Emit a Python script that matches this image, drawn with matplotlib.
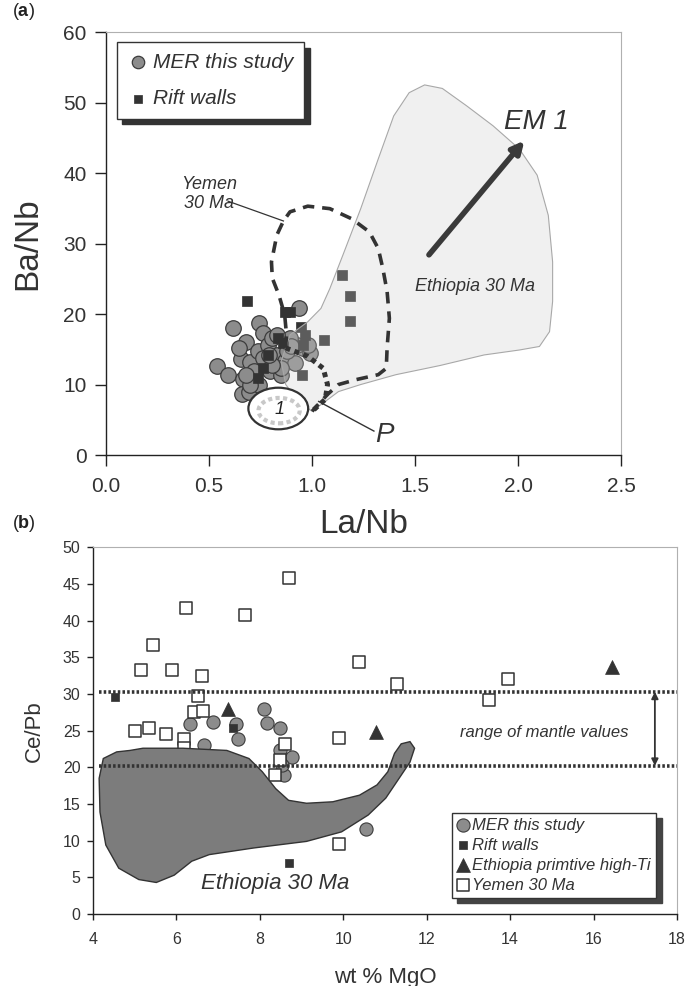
import numpy as np
import matplotlib
matplotlib.use('Agg')
import matplotlib.pyplot as plt
from matplotlib.patches import Polygon, Ellipse

plt.rcParams['font.family'] = ['Liberation Sans Narrow', 'Liberation Sans', 'DejaVu Sans']
plt.rcParams['mathtext.fontset'] = 'custom'
plt.rcParams['mathtext.bf'] = 'Liberation Sans:bold'
plt.rcParams['mathtext.rm'] = 'Liberation Sans'

# ---------------- panel (a): Ba/Nb vs La/Nb ----------------
mer_a_lanb = [0.54, 0.59, 0.615, 0.653, 0.664, 0.662, 0.679, 0.70, 0.696, 0.743, 0.739, 0.764,
              0.786, 0.717, 0.764, 0.807, 0.829, 0.797, 0.85, 0.87, 0.919, 0.936, 0.957, 0.99,
              0.98, 0.925, 0.893, 0.88, 0.85, 0.807, 0.743, 0.70, 0.679, 0.647, 0.79, 0.83, 0.90]
mer_a_banb = [12.7, 11.3, 18.0, 13.6, 10.8, 8.7, 16.1, 13.2, 8.95, 18.7, 14.8, 17.3,
              15.6, 11.9, 13.75, 16.6, 14.2, 11.9, 11.4, 13.3, 13.05, 20.8, 15.2, 14.5,
              15.6, 15.6, 16.6, 14.7, 12.3, 12.8, 10.0, 10.0, 11.4, 15.2, 14.2, 17.05, 15.4]

rift_a_lanb = [0.685, 0.871, 0.893, 0.946, 0.968, 0.957, 1.06, 1.146, 1.182, 1.182, 0.953,
               0.833, 0.86, 0.786, 0.764, 0.74]
rift_a_banb = [21.8, 20.3, 20.3, 18.1, 17.05, 15.6, 16.25, 25.6, 22.6, 19.0, 11.4,
               16.6, 15.9, 14.2, 12.3, 10.9]

ethiopia_a_lanb = [0.893, 0.979, 1.043, 1.086, 1.15, 1.236, 1.321, 1.396, 1.471, 1.546, 1.632,
                   1.749, 1.878, 2.006, 2.092, 2.146, 2.167, 2.167, 2.152, 2.103, 2.006, 1.835,
                   1.621, 1.407, 1.236, 1.128, 1.064, 1.0, 0.936, 0.872, 0.85]
ethiopia_a_banb = [17.05, 18.9, 20.8, 23.6, 28.4, 34.95, 42.0, 48.1, 51.4, 52.5, 52.0,
                   49.55, 46.7, 43.4, 39.7, 34.0, 27.4, 21.8, 17.5, 15.4, 14.9, 14.2,
                   12.7, 11.4, 10.0, 9.0, 7.6, 6.2, 7.6, 10.0, 13.3]

yemen_a_lanb = [0.871, 0.876, 0.867, 0.839, 0.807, 0.803, 0.829, 0.861, 0.893, 0.979, 1.086,
                1.193, 1.278, 1.321, 1.343, 1.364, 1.375, 1.364, 1.36, 1.321, 1.214, 1.128,
                1.075, 1.021, 1.0]
yemen_a_banb = [15.2, 17.05, 19.9, 22.7, 25.1, 27.4, 31.2, 33.2, 34.5, 35.3, 34.95,
                33.5, 31.65, 29.3, 26.5, 23.2, 19.4, 15.2, 12.3, 11.4, 10.7, 10.0,
                8.6, 6.9, 6.2]

p_a_lanb = [0.871, 0.979, 1.054, 1.075, 1.064, 1.0]
p_a_banb = [15.2, 14.0, 12.3, 10.0, 7.9, 6.2]

# ---------------- panel (b): Ce/Pb vs MgO ----------------
mer_b_mgo = [6.33, 6.66, 6.88, 7.43, 7.48, 8.09, 8.17, 8.48, 8.48, 8.77, 8.59, 8.54, 10.55]
mer_b_cepb = [25.95, 23.0, 26.2, 25.95, 23.9, 28.0, 26.1, 25.4, 22.3, 21.4, 18.9, 20.3, 11.6]

rift_b_mgo = [4.53, 7.35, 8.69]
rift_b_cepb = [29.6, 25.3, 6.9]

hiti_b_mgo = [7.25, 10.78, 16.44]
hiti_b_cepb = [28.0, 24.8, 33.7]

yemen_b_mgo = [8.695, 6.24, 7.64, 5.45, 5.16, 5.90, 6.61, 10.39, 11.29, 13.95, 13.49, 6.51,
               6.42, 6.64, 5.01, 5.35, 5.76, 6.19, 6.19, 9.91, 8.6, 8.49, 8.36, 9.91]
yemen_b_cepb = [45.8, 41.7, 40.8, 36.7, 33.2, 33.2, 32.4, 34.4, 31.4, 32.1, 29.2, 29.7,
                27.5, 27.7, 24.9, 25.3, 24.6, 23.8, 22.6, 24.0, 23.2, 21.0, 18.9, 9.6]

ethiopia_b_mgo = [4.25, 4.57, 4.89, 5.2, 6.16, 7.21, 7.74, 8.06, 8.38, 8.69, 9.12, 9.75, 10.39,
                  10.81, 11.07, 11.23, 11.39, 11.6, 11.71, 11.6, 11.34, 11.02, 10.6, 9.96, 9.12,
                  7.85, 6.79, 6.37, 5.95, 5.52, 5.1, 4.62, 4.31, 4.17, 4.15]
ethiopia_b_cepb = [21.2, 22.1, 22.3, 22.6, 22.6, 22.3, 21.2, 19.4, 17.1, 15.5, 15.1, 15.3, 16.2,
                   17.6, 19.4, 21.9, 23.2, 23.5, 22.6, 20.7, 18.5, 15.8, 13.5, 11.2, 9.9,
                   9.0, 8.1, 7.2, 5.3, 4.3, 4.7, 6.25, 9.4, 13.9, 18.5]

mantle_range = [20.2, 30.3]

CIRCLE_FC = '#8c8c8c'
TXT = '#333333'


def style_axes(ax):
    for side in ('top', 'right'):
        ax.spines[side].set_color('#b0b0b0')
        ax.spines[side].set_linewidth(0.8)
    for side in ('left', 'bottom'):
        ax.spines[side].set_color('#222222')
        ax.spines[side].set_linewidth(1.0)
    ax.tick_params(top=False, right=False, direction='out', colors='#222222')


def style_legend(leg):
    leg.get_frame().set_edgecolor(TXT)
    leg.get_frame().set_linewidth(1.0)
    for t in leg.get_texts():
        t.set_color(TXT)


fig = plt.figure(figsize=(6.88, 9.86), dpi=100)

# ---- (a)
ax1 = fig.add_axes([0.154, 0.5385, 0.749, 0.429])
style_axes(ax1)
eth_a = np.column_stack([ethiopia_a_lanb, ethiopia_a_banb])
# translucent field laid over the symbols, outline drawn separately
ax1.add_patch(Polygon(eth_a, closed=True, facecolor='#cbcbcb', edgecolor='none',
                      alpha=0.27, zorder=4.5))
ax1.add_patch(Polygon(eth_a, closed=True, facecolor='none', edgecolor='#a8a8a8',
                      linewidth=0.8, zorder=4.6))
ax1.plot(yemen_a_lanb, yemen_a_banb, color=TXT, lw=2.6, dashes=(3.2, 2.2),
         solid_capstyle='butt', zorder=5)
ax1.plot(p_a_lanb, p_a_banb, color=TXT, lw=3.6, dashes=(1.0, 0.9), zorder=5)
ax1.scatter(mer_a_lanb, mer_a_banb, s=125, marker='o', facecolor=CIRCLE_FC,
            edgecolor='#3c3c3c', linewidth=0.9, zorder=3, label='MER this study')
ax1.scatter(rift_a_lanb, rift_a_banb, s=44, marker='s', facecolor=TXT,
            edgecolor=TXT, linewidth=0.5, zorder=4, label='Rift walls')
ax1.add_patch(Ellipse((0.836, 6.6), 0.29, 5.9, facecolor='white', edgecolor=TXT,
                      linewidth=1.6, zorder=6))
ax1.add_patch(Ellipse((0.84, 6.3), 0.2, 3.6, facecolor='none', edgecolor='#c8c8c8',
                      linewidth=3.0, linestyle=(0, (1.0, 0.8)), zorder=6))
ax1.text(0.84, 6.4, '1', fontsize=13, style='italic', ha='center', va='center',
         color='#222222', zorder=7)

ax1.annotate('', xy=(2.03, 44.6), xytext=(1.567, 28.4),
             arrowprops=dict(arrowstyle='-|>,head_length=0.7,head_width=0.35',
                             color='#3a3a3a', lw=4.0, shrinkA=0, shrinkB=0), zorder=6)
ax1.text(2.09, 47.3, 'EM 1', fontsize=20, style='italic', ha='center', va='center',
         color=TXT, zorder=7)
ax1.text(1.79, 23.9, 'Ethiopia 30 Ma', fontsize=13, style='italic', ha='center',
         va='center', color=TXT, zorder=7)
ax1.text(0.50, 37.0, 'Yemen\n30 Ma', fontsize=13, style='italic', ha='center', va='center',
         color=TXT, linespacing=1.2, zorder=7)
ax1.plot([0.593, 0.861], [36.0, 33.2], color=TXT, lw=0.9, zorder=6)
ax1.text(1.35, 2.9, 'P', fontsize=20, style='italic', ha='center', va='center',
         color=TXT, zorder=7)
ax1.plot([1.30, 1.032], [3.4, 7.6], color=TXT, lw=1.0, zorder=6)

ax1.set_xlim(0, 2.5)
ax1.set_ylim(0, 60)
ax1.set_xticks(np.arange(0, 2.51, 0.5))
ax1.set_xticklabels([f'{v:.1f}' for v in np.arange(0, 2.51, 0.5)])
ax1.set_yticks(np.arange(0, 61, 10))
ax1.tick_params(axis='both', labelsize=15, length=8, width=1.0)
ax1.tick_params(axis='x', pad=8)
ax1.tick_params(axis='y', pad=6)
ax1.set_xlabel('La/Nb', fontsize=24, color=TXT, labelpad=9)
ax1.set_ylabel('Ba/Nb', fontsize=24, color=TXT, labelpad=14)
for lbl in ax1.get_xticklabels() + ax1.get_yticklabels():
    lbl.set_color(TXT)

leg1 = ax1.legend(loc='upper left', bbox_to_anchor=(0.021, 0.976), borderaxespad=0,
                  frameon=True, fancybox=False, handletextpad=0.25, labelspacing=0.85,
                  borderpad=0.5, handlelength=1.0, markerscale=0.8,
                  shadow={'color': TXT, 'alpha': 1.0, 'ox': 4, 'oy': -4},
                  prop={'style': 'italic', 'size': 15})
leg1.set_zorder(10)
style_legend(leg1)

# ---- (b)
ax2 = fig.add_axes([0.135, 0.073, 0.849, 0.372])
style_axes(ax2)
ax2.add_patch(Polygon(np.column_stack([ethiopia_b_mgo, ethiopia_b_cepb]), closed=True,
                      facecolor='#7c7c7c', edgecolor=TXT, linewidth=1.0, zorder=3))
for yv in mantle_range:
    ax2.plot([4.15, 18], [yv, yv], color=TXT, lw=2.6, dashes=(0.7, 0.6), zorder=4)
ax2.scatter(mer_b_mgo, mer_b_cepb, s=90, marker='o', facecolor=CIRCLE_FC,
            edgecolor='#3c3c3c', linewidth=0.8, zorder=2, label='MER this study')
ax2.scatter(rift_b_mgo, rift_b_cepb, s=34, marker='s', facecolor=TXT,
            edgecolor=TXT, linewidth=0.5, zorder=5, label='Rift walls')
ax2.scatter(hiti_b_mgo, hiti_b_cepb, s=100, marker='^', facecolor=TXT,
            edgecolor=TXT, linewidth=0.5, zorder=5, label='Ethiopia primtive high-Ti')
ax2.scatter(yemen_b_mgo, yemen_b_cepb, s=80, marker='s', facecolor='white',
            edgecolor=TXT, linewidth=1.1, zorder=2, label='Yemen 30 Ma')

ax2.annotate('', xy=(17.47, mantle_range[1]), xytext=(17.47, mantle_range[0]),
             arrowprops=dict(arrowstyle='<|-|>,head_length=0.4,head_width=0.2',
                             color=TXT, lw=1.3, shrinkA=0, shrinkB=0), zorder=5)
ax2.text(14.83, 24.7, 'range of mantle values', fontsize=12, style='italic',
         ha='center', va='center', color=TXT)
ax2.text(8.38, 4.1, 'Ethiopia 30 Ma', fontsize=16, style='italic', ha='center',
         va='center', color=TXT, zorder=6)

ax2.set_xlim(4, 18)
ax2.set_ylim(0, 50)
ax2.set_xticks(np.arange(4, 19, 2))
ax2.set_yticks(np.arange(0, 51, 5))
ax2.tick_params(axis='both', labelsize=11.5, length=4, width=1.0)
ax2.tick_params(axis='x', pad=9)
ax2.tick_params(axis='y', pad=5)
ax2.set_xlabel('wt % MgO', fontsize=16, color=TXT, labelpad=14)
ax2.set_ylabel('Ce/Pb', fontsize=16, color=TXT, labelpad=13)
for lbl in ax2.get_xticklabels() + ax2.get_yticklabels():
    lbl.set_color(TXT)

leg2 = ax2.legend(loc='lower right', bbox_to_anchor=(0.964, 0.045), borderaxespad=0,
                  frameon=True, fancybox=False, handletextpad=0.15, labelspacing=0.3,
                  borderpad=0.3, handlelength=0.8,
                  shadow={'color': '#444444', 'alpha': 1.0, 'ox': 4, 'oy': -4},
                  prop={'style': 'italic', 'size': 12})
style_legend(leg2)

fig.text(0.018, 0.988, r'($\mathbf{a}$)', fontsize=13, va='center', color='#222222')
fig.text(0.018, 0.469, r'($\mathbf{b}$)', fontsize=13, va='center', color='#222222')

fig.savefig('out.png', dpi=100)
